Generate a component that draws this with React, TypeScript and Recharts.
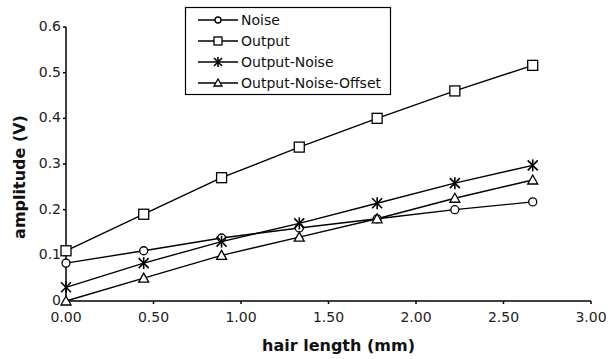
import { LineChart, Line, XAxis, YAxis } from 'recharts';

const hairLength = [0, 0.444, 0.889, 1.333, 1.778, 2.222, 2.667];
const noise = [0.083, 0.11, 0.138, 0.16, 0.18, 0.2, 0.217];
const output = [0.11, 0.19, 0.27, 0.337, 0.4, 0.46, 0.516];
const outputNoise = [0.03, 0.083, 0.13, 0.17, 0.214, 0.258, 0.297];
const outputNoiseOffset = [0, 0.05, 0.1, 0.14, 0.18, 0.225, 0.265];
const xTicks = [0, 0.5, 1, 1.5, 2, 2.5, 3];
const yTicks = [0, 0.1, 0.2, 0.3, 0.4, 0.5, 0.6];

const data = hairLength.map((x, i) => ({
  x,
  noise: noise[i],
  output: output[i],
  outputNoise: outputNoise[i],
  offset: outputNoiseOffset[i],
}));

type Kind = 'circle' | 'square' | 'star' | 'triangle';

const Marker = ({ cx, cy, kind, size = 5 }: { cx: number; cy: number; kind: Kind; size?: number }) => {
  const s = { stroke: '#000', strokeWidth: 1.3, fill: '#fff' };
  const h = size;
  if (kind === 'circle') return <circle cx={cx} cy={cy} r={h - 1} {...s} />;
  if (kind === 'square') return <rect x={cx - h} y={cy - h} width={h * 2} height={h * 2} {...s} />;
  if (kind === 'triangle')
    return <polygon points={`${cx},${cy - h} ${cx + h},${cy + h - 1} ${cx - h},${cy + h - 1}`} {...s} />;
  return (
    <g stroke="#000" strokeWidth={1.6}>
      <line x1={cx - h} y1={cy - h} x2={cx + h} y2={cy + h} />
      <line x1={cx - h} y1={cy + h} x2={cx + h} y2={cy - h} />
      <line x1={cx} y1={cy - h - 1} x2={cx} y2={cy + h + 1} />
    </g>
  );
};

const dotFor = (kind: Kind) => (props: any) => (
  <Marker key={`${kind}-${props.index}`} cx={props.cx} cy={props.cy} kind={kind} />
);

const legendItems: { label: string; kind: Kind }[] = [
  { label: 'Noise', kind: 'circle' },
  { label: 'Output', kind: 'square' },
  { label: 'Output-Noise', kind: 'star' },
  { label: 'Output-Noise-Offset', kind: 'triangle' },
];

const font = '"DejaVu Sans", "Liberation Sans", Arial, sans-serif';

export default function App() {
  return (
    <div style={{ position: 'fixed', left: 0, top: 0, width: 611, height: 359, background: '#fff' }}>
      <LineChart
        width={611}
        height={359}
        data={data}
        margin={{ top: 27, right: 20, left: 0, bottom: 0 }}
        style={{ fontFamily: font }}
      >
        <XAxis
          dataKey="x"
          type="number"
          domain={[0, 3]}
          ticks={xTicks}
          tickFormatter={(v: number) => v.toFixed(2)}
          height={58}
          stroke="#000"
          strokeWidth={1.5}
          tickSize={3}
          tick={{ fill: '#222', fontSize: 14, dy: 6 }}
          label={{ value: 'hair length (mm)', position: 'insideBottom', offset: 8, dx: 10, fill: '#111', fontSize: 16, fontWeight: 'bold' }}
        />
        <YAxis
          type="number"
          domain={[0, 0.6]}
          ticks={yTicks}
          tickFormatter={(v: number) => (v === 0 ? '0' : v.toFixed(1))}
          width={66}
          stroke="#000"
          strokeWidth={1.5}
          tickSize={3}
          tick={{ fill: '#222', fontSize: 14, dy: -1 }}
          label={() => (
            <text
              x={19}
              y={177}
              transform="rotate(-90 19 177)"
              textAnchor="middle"
              dominantBaseline="central"
              fontSize={16}
              fontWeight="bold"
              fill="#111"
              fontFamily={font}
            >
              amplitude (V)
            </text>
          )}
        />
        <Line dataKey="noise" stroke="#000" strokeWidth={1.4} dot={dotFor('circle')} isAnimationActive={false} />
        <Line dataKey="output" stroke="#000" strokeWidth={1.4} dot={dotFor('square')} isAnimationActive={false} />
        <Line dataKey="outputNoise" stroke="#000" strokeWidth={1.4} dot={dotFor('star')} isAnimationActive={false} />
        <Line dataKey="offset" stroke="#000" strokeWidth={1.4} dot={dotFor('triangle')} isAnimationActive={false} />
      </LineChart>
      <svg
        width={207}
        height={89}
        style={{ position: 'absolute', left: 185, top: 7, overflow: 'visible' }}
      >
        <rect x={0.5} y={0.5} width={205} height={87} fill="#fff" stroke="#000" strokeWidth={1.2} />
        {legendItems.map((it, i) => {
          const y = 13 + i * 21;
          return (
            <g key={it.label}>
              <line x1={13} y1={y} x2={53} y2={y} stroke="#000" strokeWidth={1.4} />
              <Marker cx={33} cy={y} kind={it.kind} size={4} />
              <text x={56} y={y} dominantBaseline="central" fontSize={14} fill="#111" fontFamily={font}>
                {it.label}
              </text>
            </g>
          );
        })}
      </svg>
    </div>
  );
}
